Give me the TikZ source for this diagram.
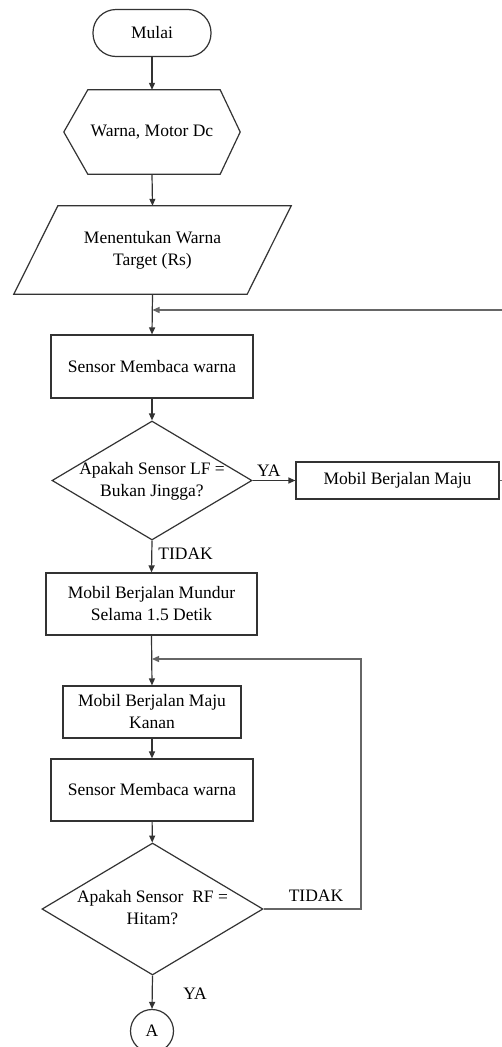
\documentclass[tikz,border=0pt]{standalone}
\usepackage{fontspec}
\setmainfont{Liberation Serif}
\usetikzlibrary{arrows.meta,shapes.geometric,calc}
\begin{document}
\begin{tikzpicture}[x=1pt,y=-1pt,
  every node/.style={font=\fontsize{17.5}{22}\selectfont, text=black},
  ln/.style={draw=black!80, line width=1.2pt},
  arr/.style={ln, -{Triangle[length=7pt,width=6pt]}},
  loopln/.style={draw=black!60, line width=1.3pt, -{Triangle[length=7pt,width=6pt]}},
  boxn/.style={ln, rectangle, inner sep=0pt, align=center},
  plain/.style={rectangle, inner sep=0pt, align=center},
  dia/.style={ln, diamond, inner sep=0pt}
]
\useasboundingbox (0,0) rectangle (502,1047);
\clip (0,0) rectangle (502,1047);
\fill[white] (0,0) rectangle (502,1047);

% terminal
\node[boxn, minimum width=118pt, minimum height=47pt, rounded corners=23pt] (start) at (152,33) {Mulai};

% hexagon (preparation)
\node[plain, minimum width=176pt, minimum height=84pt] (hex) at (152,132) {Warna, Motor Dc};
\draw[ln] ([xshift=24pt]hex.north west) -- ([xshift=-20pt]hex.north east) -- (hex.east)
  -- ([xshift=-20pt]hex.south east) -- ([xshift=24pt]hex.south west) -- (hex.west) -- cycle;

% parallelogram (input)
\node[plain, minimum width=277pt, minimum height=88pt] (para) at (152.5,250) {Menentukan Warna\\Target (Rs)};
\draw[ln] ([xshift=44pt]para.north west) -- (para.north east) -- ([xshift=-44pt]para.south east)
  -- (para.south west) -- cycle;

\node[boxn, minimum width=202pt, minimum height=63pt] (s1) at (152,366.5) {Sensor Membaca warna};

\node[dia, minimum width=200pt, minimum height=119pt] (d1) at (152,480.5) {};
\node[plain] (d1t) at (152,481) {Apakah Sensor LF =\\Bukan Jingga?};

\node[boxn, minimum width=203pt, minimum height=37pt] (maju) at (397.5,480.5) {Mobil Berjalan Maju};

\node[boxn, minimum width=211pt, minimum height=62pt] (mundur) at (151.5,604) {Mobil Berjalan Mundur\\Selama 1.5 Detik};

\node[boxn, minimum width=178pt, minimum height=52pt] (kanan) at (152,712) {Mobil Berjalan Maju\\Kanan};

\node[boxn, minimum width=202pt, minimum height=62pt] (s2) at (152,790) {Sensor Membaca warna};

\node[dia, minimum width=221pt, minimum height=132pt] (d2) at (152.5,909) {};
\node[plain] (d2t) at (152.5,908) {Apakah Sensor\ \ RF =\\Hitam?};

\node[ln, circle, minimum size=43pt, inner sep=0pt] (A) at (152,1031) {A};

% junction points
\coordinate (j1) at (152.5,310);
\coordinate (j2) at (152,659);

% connectors
\draw[arr] (start) -- (hex);
\draw[arr] (hex.south) -- (para.north);
\draw[arr] (para.south) -- (s1.north);
\draw[arr] (s1) -- (d1);
\draw[arr] (d1.east) -- node[above, pos=0.38, inner sep=3pt] (ya1) {YA} (maju.west);
\draw[arr] (d1.south) -- node[right, pos=0.42, inner sep=6pt] (tidak1) {TIDAK} (mundur.north);
\draw[loopln] (maju.east) -- ++(14,0) |- (j1);
\draw[arr] (mundur.south) -- (kanan.north);
\draw[arr] (kanan) -- (s2);
\draw[arr] (s2) -- (d2);
\draw[loopln] (d2.east) -- (361,909) |- (j2);
\node[plain] (tidak2) at (316,896) {TIDAK};
\draw[arr] (d2.south) -- (A.north);
\node[plain] (ya2) at (195,994) {YA};
\end{tikzpicture}
\end{document}
